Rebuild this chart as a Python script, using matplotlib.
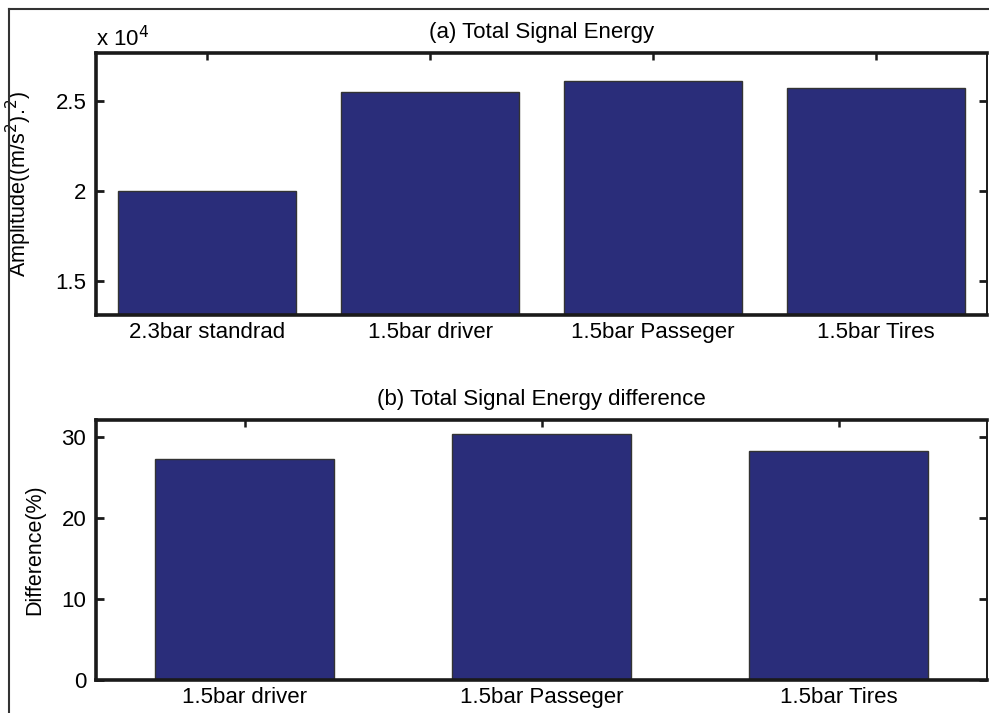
import matplotlib
matplotlib.use("Agg")
import matplotlib.pyplot as plt
from matplotlib.lines import Line2D

plt.rcParams['font.family'] = ['Liberation Sans', 'DejaVu Sans']

# data
energy_labels = ['2.3bar standrad', '1.5bar driver', '1.5bar Passeger', '1.5bar Tires']
energy_vals = [2.00, 2.55, 2.61, 2.572]          # x 10^4
diff_labels = ['1.5bar driver', '1.5bar Passeger', '1.5bar Tires']
diff_vals = [27.3, 30.4, 28.3]                   # percent
energy_ticks = [1.5, 2, 2.5]
diff_ticks = [0, 10, 20, 30]

bar_color = '#2a2d7a'
fs = 16

W, H = 989, 713
fig = plt.figure(figsize=(W / 100, H / 100), dpi=100)

def px_box(left, top, right, bottom):
    return [left / W, 1 - bottom / H, (right - left) / W, (bottom - top) / H]

def style_axes(ax):
    for side in ['left', 'bottom', 'top']:
        ax.spines[side].set_linewidth(2.6)
    ax.spines['right'].set_linewidth(1.4)
    for s in ax.spines.values():
        s.set_color('#1a1a1a')
    ax.tick_params(axis='y', direction='in', length=6, width=2, right=True,
                   labelsize=fs, pad=7, color='#1a1a1a')
    ax.tick_params(axis='x', direction='in', length=5, width=1.8, top=True,
                   labelsize=fs, pad=5, color='#1a1a1a')
    ax.set_axisbelow(True)

# (a) total signal energy
ax1 = fig.add_axes(px_box(96, 53, 987, 315))
x1 = range(1, len(energy_vals) + 1)
ax1.bar(x1, energy_vals, width=0.8, color=bar_color, edgecolor='#333333', linewidth=1.0)
ax1.set_xlim(0.5, 4.5)
ax1.set_ylim(1.311, 2.767)
ax1.set_yticks(energy_ticks)
ax1.set_yticklabels(['1.5', '2', '2.5'])
ax1.set_xticks(list(x1))
ax1.set_xticklabels(energy_labels)
ax1.set_title('(a) Total Signal Energy', fontsize=fs, pad=11)
ax1.set_ylabel('Amplitude((m/s$^2$).$^2$)', fontsize=fs - 0.5)
ax1.yaxis.set_label_coords(-0.07, 0.5)
style_axes(ax1)
fig.text(96 / W, 1 - 46 / H, 'x 10$^4$', fontsize=fs, ha='left', va='baseline')

# (b) difference
ax2 = fig.add_axes(px_box(96, 420, 987, 680))
x2 = range(1, len(diff_vals) + 1)
ax2.bar(x2, diff_vals, width=0.6, color=bar_color, edgecolor='#333333', linewidth=1.0)
ax2.set_xlim(0.5, 3.5)
ax2.set_ylim(0, 32.1)
ax2.set_yticks(diff_ticks)
ax2.set_xticks(list(x2))
ax2.set_xticklabels(diff_labels)
ax2.set_title('(b) Total Signal Energy difference', fontsize=fs, pad=11)
ax2.set_ylabel('Difference(%)', fontsize=fs - 0.5)
ax2.yaxis.set_label_coords(-0.057, 0.5)
style_axes(ax2)

# outer frame (left and top edges visible)
fig.add_artist(Line2D([9 / W, 9 / W], [0, 1 - 9 / H], transform=fig.transFigure,
                      color='#333333', linewidth=1.5))
fig.add_artist(Line2D([9 / W, 1], [1 - 9 / H, 1 - 9 / H], transform=fig.transFigure,
                      color='#333333', linewidth=1.5))

fig.savefig('out.png', dpi=100)
